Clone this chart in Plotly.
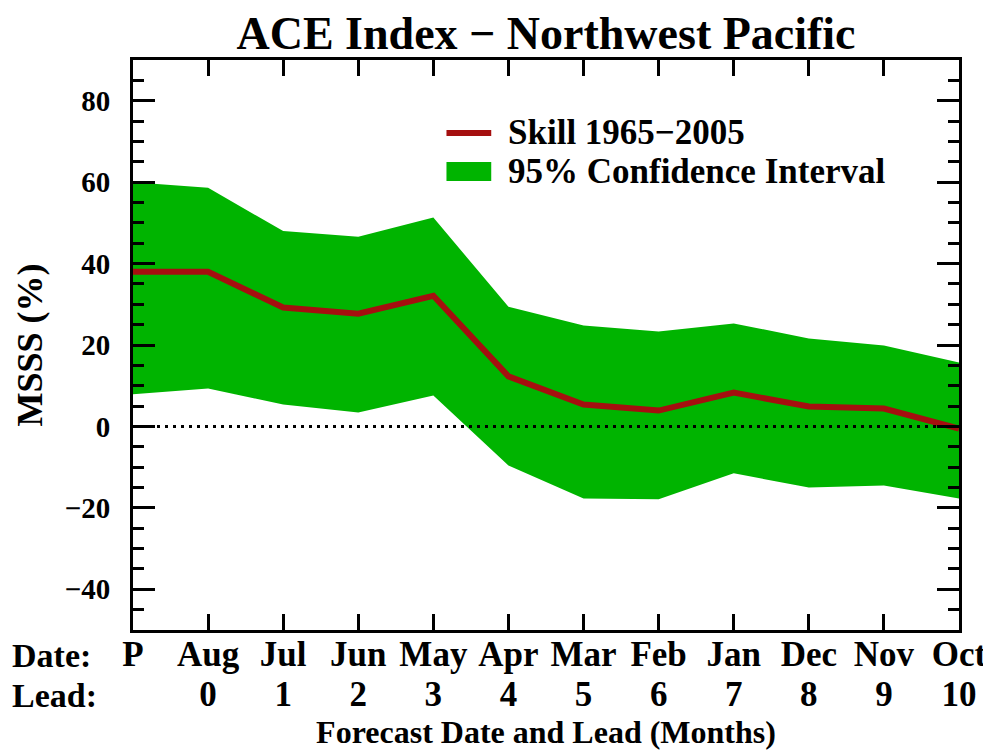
import plotly.graph_objects as go

# forecast dates and leads ("P" = first point, no lead)
dates = ["P", "Aug", "Jul", "Jun", "May", "Apr", "Mar", "Feb", "Jan", "Dec", "Nov", "Oct"]
leads = ["", "0", "1", "2", "3", "4", "5", "6", "7", "8", "9", "10"]
x_pos = [-1, 0, 1, 2, 3, 4, 5, 6, 7, 8, 9, 10]

skill = [38.0, 38.0, 29.2, 27.7, 32.1, 12.3, 5.4, 3.9, 8.3, 4.9, 4.4, -0.5]
ci_upper = [60.0, 58.6, 48.0, 46.6, 51.3, 29.4, 24.8, 23.3, 25.3, 21.6, 19.9, 15.7]
ci_lower = [7.9, 9.3, 5.4, 3.4, 7.6, -9.6, -17.7, -17.9, -11.5, -15.0, -14.5, -17.7]

skill_name = "Skill 1965\u22122005"
ci_name = "95% Confidence Interval"

FONT = "Liberation Serif"
GREEN = "#00b400"
RED = "#a50f0f"

fig = go.Figure()

# confidence band as one closed polygon (upper edge, then lower edge back)
fig.add_trace(go.Scatter(
    x=x_pos + x_pos[::-1], y=ci_upper + ci_lower[::-1],
    mode="lines", line=dict(width=0, color=GREEN),
    fill="toself", fillcolor=GREEN, name=ci_name, hoverinfo="skip",
))
fig.add_trace(go.Scatter(
    x=x_pos, y=skill, mode="lines", line=dict(width=6, color=RED),
    name=skill_name,
))
# invisible trace that carries the lead labels on the second x axis
fig.add_trace(go.Scatter(
    x=x_pos, y=skill, xaxis="x2", mode="lines",
    line=dict(width=0), hoverinfo="skip", opacity=0,
))

# dotted zero line
fig.add_shape(
    type="line", xref="x", yref="y", x0=-1, x1=10, y0=0, y1=0,
    line=dict(color="black", width=3, dash="3px,5px"), layer="above",
)

# legend drawn by hand so the swatches match the original size
fig.add_shape(type="line", xref="paper", yref="paper",
              x0=0.3795, x1=0.4337, y0=0.8925, y1=0.8925,
              line=dict(color=RED, width=6))
fig.add_shape(type="rect", xref="paper", yref="paper",
              x0=0.3795, x1=0.4337, y0=0.8218, y1=0.8498,
              line=dict(width=0), fillcolor=GREEN)
legend_font = dict(family=FONT, size=35, color="black", weight="bold")
fig.add_annotation(text=skill_name, xref="paper", yref="paper", x=0.4518, y=0.8925,
                   xanchor="left", yanchor="middle", showarrow=False, font=legend_font)
fig.add_annotation(text=ci_name, xref="paper", yref="paper", x=0.4518, y=0.8365,
                   xanchor="left", yanchor="middle", showarrow=False, font=legend_font)

axis_font = dict(family=FONT, size=35, color="black")

fig.update_layout(
    xaxis=dict(
        range=[-1, 10],
        tickvals=x_pos, ticktext=dates,
        ticks="inside", ticklen=16, tickwidth=3, tickcolor="black",
        showline=True, linewidth=3, linecolor="black", mirror="ticks",
        showgrid=False, zeroline=False,
        tickfont=axis_font, ticklabelstandoff=-9,
    ),
    xaxis2=dict(
        range=[-1, 10], overlaying="x", anchor="free", position=0.102,
        side="bottom",
        tickvals=x_pos, ticktext=leads,
        ticks="", showline=False, showgrid=False, zeroline=False,
        tickfont=axis_font,
        title=dict(text="Forecast Date and Lead (Months)",
                   font=dict(family=FONT, size=32, color="black"), standoff=0),
    ),
    yaxis=dict(
        range=[-50, 90], domain=[0.1605, 1],
        tickvals=[-40, -20, 0, 20, 40, 60, 80],
        ticks="inside", ticklen=22, tickwidth=3, tickcolor="black",
        minor=dict(dtick=5, ticks="inside", ticklen=11, tickwidth=3, tickcolor="black"),
        showline=True, linewidth=3, linecolor="black", mirror="ticks",
        showgrid=False, zeroline=False,
        tickfont=dict(family=FONT, size=29, color="black"),
        ticklabelstandoff=14,
        title=dict(text="MSSS (%)", font=dict(family=FONT, size=36, color="black"), standoff=12),
    ),
)

row_font = dict(family=FONT, size=34, color="black")
fig.add_annotation(text="Date:", xref="paper", yref="paper", x=-0.149, y=0.1225,
                   xanchor="left", yanchor="middle", showarrow=False, font=row_font)
fig.add_annotation(text="Lead:", xref="paper", yref="paper", x=-0.149, y=0.0648,
                   xanchor="left", yanchor="middle", showarrow=False, font=row_font)

fig.update_layout(
    width=991, height=751,
    paper_bgcolor="white", plot_bgcolor="white",
    margin=dict(l=125, r=36, t=52, b=20),
    font=dict(family=FONT, size=35, color="black", weight="bold"),
    title=dict(text="ACE Index \u2212 Northwest Pacific",
               x=0.5, xref="paper", y=0.967, yanchor="middle",
               font=dict(family=FONT, size=46, color="black", weight="bold")),
    showlegend=False,
)

fig.write_html("out.html")
